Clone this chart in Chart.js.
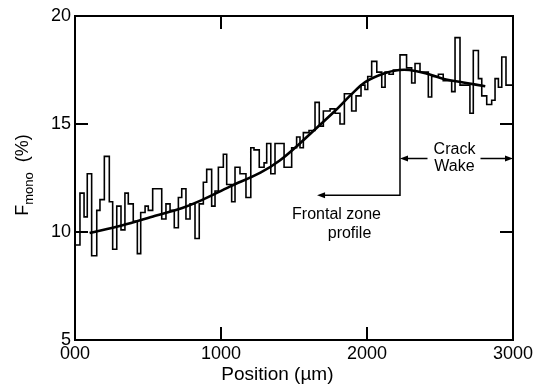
<!DOCTYPE html>
<html>
<head>
<meta charset="utf-8">
<script src="https://cdn.jsdelivr.net/npm/chart.js@4/dist/chart.umd.min.js"></script>
<style>
html,body{margin:0;padding:0;background:#fff;}
#wrap{width:550px;height:384px;position:relative;}
</style>
</head>
<body>
<div id="wrap"><canvas id="c" width="550" height="384"></canvas></div>
<script>
// ---- data ----
// step profile: start position of each step (µm) and its F_mono value (%)
const stepX = [0,34,62,84,114,149,171,201,235,258,286,315,342,365,399,427,450,480,502,532,594,623,651,680,708,731,760,788,822,851,879,902,936,959,982,1016,1039,1073,1096,1130,1171,1204,1226,1262,1295,1313,1341,1370,1432,1484,1518,1541,1564,1603,1644,1673,1701,1747,1781,1815,1845,1895,1925,1959,1986,2005,2032,2067,2101,2124,2151,2180,2226,2271,2306,2329,2363,2420,2443,2489,2522,2580,2603,2637,2705,2728,2763,2786,2820,2854,2877,2900,2923,2952,3000];
const stepF = [9.4,11.8,10.7,12.7,8.9,11.0,11.5,13.5,11.4,9.2,11.2,10.1,11.8,11.3,10.5,9.0,10.9,11.2,11.0,12.0,10.6,11.3,11.0,10.2,11.6,12.0,10.6,11.3,9.7,11.3,12.3,12.9,11.2,11.9,13.0,13.6,12.2,11.4,13.0,12.7,11.6,13.9,13.8,13.0,13.2,14.1,12.7,14.1,13.0,13.9,14.4,13.9,14.6,14.7,16.0,14.9,15.6,15.7,15.5,15.0,16.4,15.6,16.3,16.8,16.6,17.2,17.9,17.4,16.7,17.4,17.3,17.5,18.2,17.6,16.9,17.8,17.4,16.25,17.2,17.3,17.0,16.5,19.0,16.8,15.5,18.4,17.1,16.3,15.9,16.1,17.1,16.7,18.1,16.8,16.8];
// smooth fitted curve
const fitX = [100,320,550,730,860,1060,1270,1400,1540,1660,1780,1890,1990,2120,2220,2290,2400,2520,2680,2810];
const fitF = [9.95,10.3,10.75,11.1,11.45,12.1,12.75,13.3,14.1,14.85,15.6,16.35,16.95,17.35,17.5,17.5,17.35,17.1,16.9,16.75];
// axis ticks
const xTickValues = [0,1000,2000,3000];
const xTickLabels = ['000','1000','2000','3000'];
const yTickValues = [5,10,15,20];
// annotation anchors (data units)
const boundaryX = 2226;      // frontal zone / crack wake boundary
const boundaryTopF = 17.5;
const frontalArrowF = 11.7;
const frontalArrowEndX = 1658;
const wakeArrowF = 13.4;
const wakeEndX = 3000;

const FONT = '"Liberation Sans", Arial, Helvetica, sans-serif';

const framePlugin = {
  id: 'frame',
  afterDatasetsDraw(chart) {
    const ctx = chart.ctx, a = chart.chartArea;
    const xs = chart.scales.x, ys = chart.scales.y;
    ctx.save();
    ctx.strokeStyle = '#000';
    ctx.lineWidth = 2;
    ctx.strokeRect(a.left, a.top, a.right - a.left, a.bottom - a.top);
    const tl = 13;
    ctx.beginPath();
    xTickValues.forEach(v => {
      if (v === xs.min || v === xs.max) return;
      const px = xs.getPixelForValue(v);
      ctx.moveTo(px, a.bottom); ctx.lineTo(px, a.bottom - tl);
      ctx.moveTo(px, a.top); ctx.lineTo(px, a.top + tl);
    });
    yTickValues.forEach(v => {
      if (v === ys.min || v === ys.max) return;
      const py = ys.getPixelForValue(v);
      ctx.moveTo(a.left, py); ctx.lineTo(a.left + tl, py);
      ctx.moveTo(a.right, py); ctx.lineTo(a.right - tl, py);
    });
    ctx.stroke();

    // annotations
    const bx = xs.getPixelForValue(boundaryX);
    const by0 = ys.getPixelForValue(boundaryTopF);
    const by1 = ys.getPixelForValue(frontalArrowF);
    const fx = xs.getPixelForValue(frontalArrowEndX);
    const wy = ys.getPixelForValue(wakeArrowF);
    const wx = xs.getPixelForValue(wakeEndX);
    ctx.lineWidth = 1.5;
    ctx.beginPath();
    ctx.moveTo(bx, by0); ctx.lineTo(bx, by1); ctx.lineTo(fx + 6, by1);
    ctx.stroke();
    const head = (x, y, dir) => {
      ctx.beginPath();
      ctx.moveTo(x, y);
      ctx.lineTo(x - dir * 8, y - 3);
      ctx.lineTo(x - dir * 8, y + 3);
      ctx.closePath();
      ctx.fillStyle = '#000';
      ctx.fill();
    };
    head(fx, by1, -1);
    // crack wake double arrow with gap for text
    ctx.font = '16px ' + FONT;
    const cx = (bx + wx) / 2 - 2;
    ctx.beginPath();
    ctx.moveTo(bx + 6, wy); ctx.lineTo(cx - 27, wy);
    ctx.moveTo(cx + 26, wy); ctx.lineTo(wx - 6, wy);
    ctx.stroke();
    head(bx, wy, -1);
    head(wx, wy, 1);
    ctx.fillStyle = '#000';
    ctx.textAlign = 'center';
    ctx.textBaseline = 'middle';
    ctx.fillText('Crack', cx, wy - 9);
    ctx.fillText('Wake', cx, wy + 8);
    ctx.fillText('Frontal zone', (fx + bx) / 2 - 22, by1 + 19);
    ctx.fillText('profile', (fx + bx) / 2 - 9, by1 + 38);

    // x axis title
    ctx.font = '19px ' + FONT;
    ctx.fillText('Position (µm)', a.left + (a.right - a.left) * 0.462, 375);

    // y axis title with subscript
    ctx.translate(22, (a.top + a.bottom) / 2 - 3);
    ctx.rotate(-Math.PI / 2);
    const big = '18px ' + FONT, small = '13px ' + FONT;
    ctx.font = big; const wF = ctx.measureText('F').width; const wP = ctx.measureText('  (%)').width;
    ctx.font = small; const wM = ctx.measureText('mono').width;
    let x0 = -(wF + wM + wP) / 2;
    ctx.textAlign = 'left';
    ctx.textBaseline = 'alphabetic';
    ctx.font = big; ctx.fillText('F', x0, 6);
    ctx.font = small; ctx.fillText('mono', x0 + wF, 11);
    ctx.font = big; ctx.fillText('  (%)', x0 + wF + wM, 6);
    ctx.restore();
  }
};

new Chart(document.getElementById('c'), {
  type: 'line',
  data: {
    datasets: [
      {
        data: stepX.map((x, i) => ({x: x, y: stepF[i]})),
        stepped: 'before',
        borderColor: '#000',
        borderWidth: 1.6,
        pointRadius: 0,
        fill: false
      },
      {
        data: fitX.map((x, i) => ({x: x, y: fitF[i]})),
        borderColor: '#000',
        borderWidth: 2.6,
        pointRadius: 0,
        tension: 0.35,
        fill: false
      }
    ]
  },
  options: {
    responsive: false,
    animation: false,
    devicePixelRatio: 1,
    layout: { padding: { left: 0, right: 37, top: 16, bottom: 0 } },
    plugins: { legend: { display: false }, tooltip: { enabled: false } },
    scales: {
      x: {
        type: 'linear', min: 0, max: 3000,
        afterBuildTicks(s) { s.ticks = xTickValues.map(v => ({value: v})); },
        afterFit(s) { s.height = 44; },
        grid: { display: false, drawTicks: false },
        border: { display: false },
        ticks: {
          color: '#000', padding: 3, maxRotation: 0, autoSkip: false,
          font: { family: FONT, size: 18 },
          callback: (v) => xTickLabels[xTickValues.indexOf(v)]
        },
        title: { display: false }
      },
      y: {
        type: 'linear', min: 5, max: 20,
        afterBuildTicks(s) { s.ticks = yTickValues.map(v => ({value: v})); },
        afterFit(s) { s.width = 75; },
        grid: { display: false, drawTicks: false },
        border: { display: false },
        ticks: { color: '#000', padding: 4, font: { family: FONT, size: 18 } }
      }
    }
  },
  plugins: [framePlugin]
});
</script>
</body>
</html>
